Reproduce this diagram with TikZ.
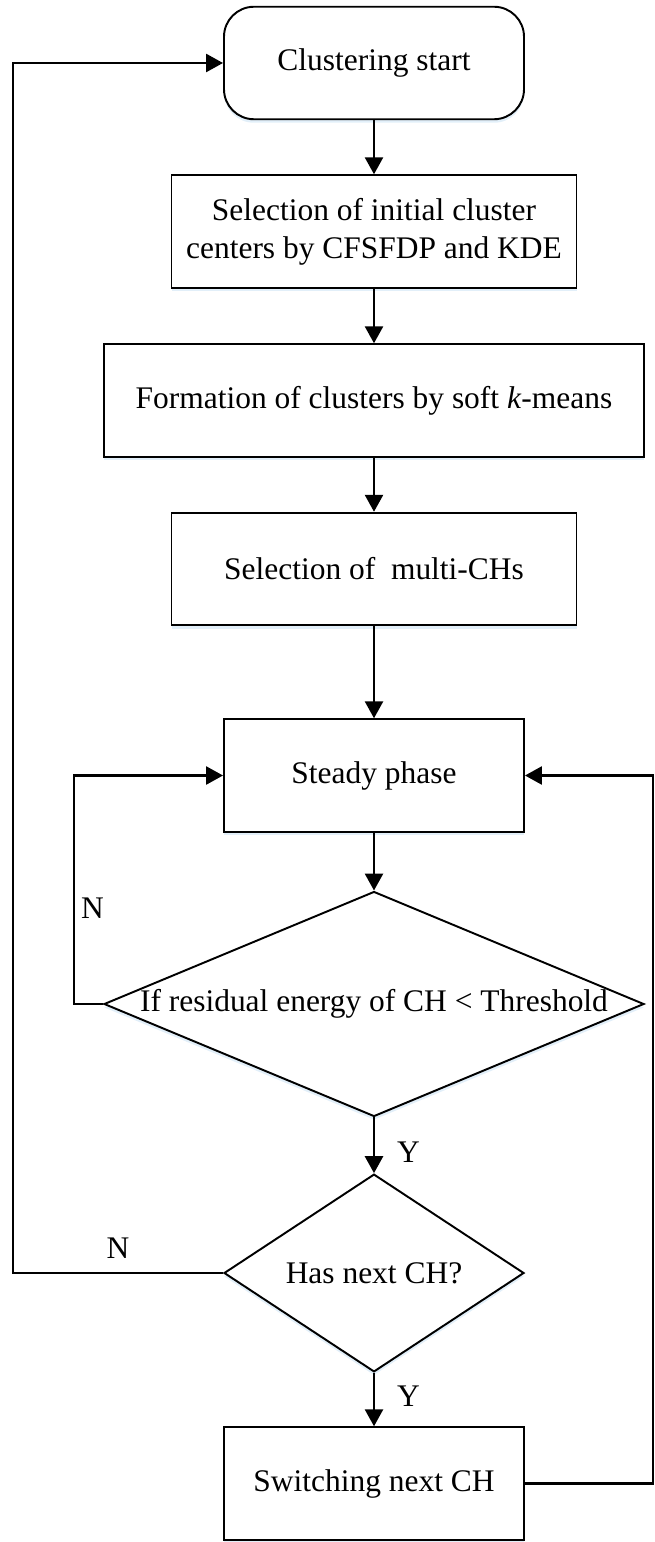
\documentclass[tikz,border=0pt]{standalone}
\usepackage{fontspec}
\setmainfont{Liberation Serif}
\usetikzlibrary{positioning,arrows.meta,shapes.geometric,shadows}

\begin{document}
\begin{tikzpicture}[node distance=3.37cm,on grid,
    font=\fontsize{17.9}{21.6}\selectfont,
    glow/.style={drop shadow={shadow xshift=0cm,shadow yshift=-0.07cm,fill=cyan!60!blue,opacity=0.12}},
    stepbox/.style={draw,line width=1.1pt,minimum height=2.25cm,inner sep=0pt,fill=white,glow},
    decision/.style={draw,diamond,line width=1.1pt,inner sep=0pt,fill=white,glow},
    flow/.style={line width=1.5pt,-{Triangle[length=0.34cm,width=0.36cm]}}]
    \useasboundingbox (0,0) rectangle (13.08,-30.84);

    \node[stepbox,rounded corners=0.6cm,minimum width=6cm] (start) at (7.48,-1.26) {Clustering start};
    \node[stepbox,minimum width=8.1cm,align=center] (centers) [below of=start] {Selection of initial cluster\\centers by CFSFDP and KDE};
    \node[stepbox,minimum width=10.8cm] (clusters) [below=3.38cm of centers] {Formation of clusters by soft \textit{k}-means};
    \node[stepbox,minimum width=8.1cm] (multich) [below of=clusters] {Selection of\ \ multi-CHs};
    \node[stepbox,minimum width=6cm] (steady) [below=4.13cm of multich] {Steady phase};
    \node[decision,aspect=2.4,minimum width=10.8cm,minimum height=4.5cm] (residual) [below=4.57cm of steady] {If residual energy of CH < Threshold};
    \node[decision,minimum width=6cm,minimum height=3.82cm] (nextch) [below=5.38cm of residual] {Has next CH?};
    \node[stepbox,minimum width=6cm] (switch) [below=4.21cm of nextch] {Switching next CH};

    \path[flow] (start) edge (centers)
                (centers) edge (clusters)
                (clusters) edge (multich)
                (multich) edge (steady)
                (steady) edge (residual);
    \draw[flow] (residual) -- node[pos=0.63,right=0.32cm] {Y} (nextch);
    \draw[flow] (nextch) -- node[pos=0.44,right=0.32cm] {Y} (switch);

    % feedback loops
    \draw[flow] (residual.west) -- ++(-0.58,0) |- node[pos=0.21,right] {N} (steady.west);
    \draw[flow] (nextch.west) -- node[above=0.15cm] {N} ++(-4.2,0) |- (start.west);
    \draw[flow] (switch.east) -- ++(2.56,0) |- (steady.east);
\end{tikzpicture}
\end{document}
